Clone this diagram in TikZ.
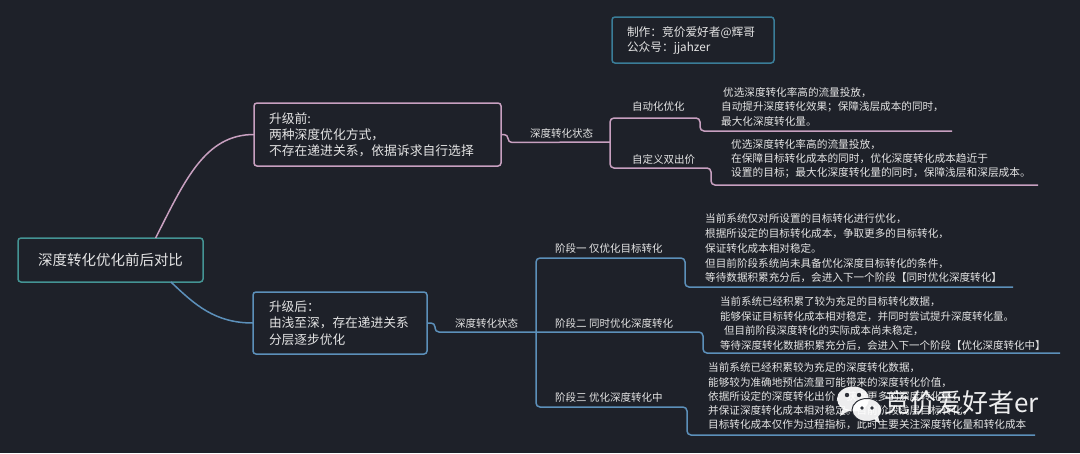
\documentclass[tikz,border=0pt]{standalone}
\usepackage{fontspec}
\setmainfont{Noto Sans CJK SC}
\definecolor{bg}{RGB}{30,33,41}
\definecolor{fg}{RGB}{228,228,228}
\definecolor{pk}{RGB}{200,160,192}
\definecolor{bl}{RGB}{92,144,186}
\definecolor{tl}{RGB}{68,148,148}
\definecolor{cr}{RGB}{58,125,152}
\begin{document}
\begin{tikzpicture}[x=1pt,y=-1pt,
  every node/.style={text=fg},
  box/.style={draw, line width=1.5pt, rounded corners=3pt, fill=bg, align=left, inner ysep=0pt, outer sep=0pt},
  pkline/.style={draw=pk, line width=1.5pt, rounded corners=4pt},
  blline/.style={draw=bl, line width=1.5pt, rounded corners=4pt},
  lbl/.style={inner sep=0pt, anchor=west, font=\fontsize{10.5}{14.5}\selectfont},
  det/.style={inner sep=0pt, anchor=west, align=left},
]
\fill[bg] (0,0) rectangle (1080,453);
\useasboundingbox (0,0) rectangle (1080,453);

% credits
\node[box, draw=cr, anchor=north west, text width=132pt, inner xsep=15pt, minimum height=46pt,
  font=\fontsize{11.7}{15}\selectfont] (credit) at (612,17) {制作：竞价爱好者@辉哥\\公众号：jjahzer};

% main boxes
\node[box, draw=tl, align=center, minimum width=185pt, minimum height=44pt, inner xsep=0pt,
  font=\fontsize{14.5}{17}\selectfont] (root) at (110.5,260) {深度转化优化前后对比};
\node[box, draw=pk, anchor=west, text width=217pt, inner xsep=15pt, minimum height=63pt,
  font=\fontsize{12.8}{16}\selectfont] (pre) at (254,134.5) {升级前:\\两种深度优化方式，\\不存在递进关系，依据诉求自行选择};
\node[box, draw=bl, anchor=west, text width=142pt, inner xsep=16pt, minimum height=62pt,
  font=\fontsize{12.7}{16.5}\selectfont] (post) at (253,323) {升级后：\\由浅至深，存在递进关系\\分层逐步优化};

% upper branch labels
\node[lbl] (state1) at (530,133) {深度转化状态};
\node[lbl] (auto1) at (632,107) {自动化优化};
\node[lbl] (cust1) at (632,160) {自定义双出价};
\node[det, font=\fontsize{10.6}{14.5}\selectfont] (d1) at (721,106.5)
  {\hspace{2pt}优选深度转化率高的流量投放，\\自动提升深度转化效果；保障浅层成本的同时，\\最大化深度转化量。};
\node[det, font=\fontsize{10.7}{14}\selectfont] (d2) at (731,159)
  {优选深度转化率高的流量投放，\\在保障目标转化成本的同时，优化深度转化成本趋近于\\设置的目标；最大化深度转化量的同时，保障浅层和深层成本。};

% lower branch labels
\node[lbl] (state2) at (455,323) {深度转化状态};
\node[lbl] (st1) at (555,248) {阶段一 仅优化目标转化};
\node[lbl] (st2) at (555,323) {阶段二 同时优化深度转化};
\node[lbl] (st3) at (555,397) {阶段三 优化深度转化中};
\node[det, font=\fontsize{10.6}{14.75}\selectfont] (s1) at (705,248.5)
  {当前系统仅对所设置的目标转化进行优化，\\根据所设定的目标转化成本，争取更多的目标转化，\\保证转化成本相对稳定。\\但目前阶段系统尚未具备优化深度目标转化的条件，\\等待数据积累充分后，会进入下一个阶段【同时优化深度转化】};
\node[det, font=\fontsize{10.5}{14.7}\selectfont] (s2) at (720,323.5)
  {当前系统已经积累了较为充足的目标转化数据，\\能够保证目标转化成本相对稳定，并同时尝试提升深度转化量。\\\hspace{4pt}但目前阶段深度转化的实际成本尚未稳定，\\等待深度转化数据积累充分后，会进入下一个阶段【优化深度转化中】};
\node[det, font=\fontsize{10.6}{14.25}\selectfont] (s3) at (708,396.5)
  {当前系统已经积累较为充足的深度转化数据，\\能够较为准确地预估流量可能带来的深度转化价值，\\依据所设定的深度转化出价，获得更多的深度转化量，\\并保证深度转化成本相对稳定。目前阶段浅层目标转化，\\目标转化成本仅作为过程指标，此时主要关注深度转化量和转化成本};

% junctions and free ends
\coordinate (sU) at (610,142);
\coordinate (e1) at (952,131);
\coordinate (e2) at (1038,185);
\coordinate (sL) at (536,332);
\coordinate (f1) at (1013,287);
\coordinate (f2) at (1060,353);
\coordinate (f3) at (1035,435);

% root curves
\draw[pkline] (root.26) .. controls (185,180) and (205,134.5) .. (pre.west);
\draw[blline] (root.-20) .. controls (195,305) and (215,323) .. (post.west);

% upper connectors
\draw[pkline] (pre.east) -- ++(7,0) -- ++(0,8) -- (sU);
\draw[pkline] (sU) -- (610,118) -- (700,118) -- (700,131) -- (e1);
\draw[pkline] (sU) -- (610,168) -- (711,168) -- (711,185) -- (e2);

% lower connectors
\draw[blline] (post.east) -- ++(8,0) -- ++(0,9) -- (sL);
\draw[blline] (sL) -- (536,258) -- (685,258) -- (685,287) -- (f1);
\draw[blline] (sL) -- (703,332) -- (703,353) -- (f2);
\draw[blline] (sL) -- (536,407) -- (687,407) -- (687,435) -- (f3);

% watermark
\begin{scope}[opacity=0.92]
  \fill[white] (853,399) ellipse [x radius=16, y radius=12.5];
  \fill[white] (843,408) -- (840,416) -- (850,410) -- cycle;
  \fill[bg] (847,395) circle [radius=2.2];
  \fill[bg] (859,395) circle [radius=2.2];
  \filldraw[fill=white, draw=bg, line width=1pt] (867,410) ellipse [x radius=15, y radius=11.5];
  \fill[white] (874,419) -- (880,424) -- (878,416) -- cycle;
  \fill[bg] (862,408) circle [radius=1.9];
  \fill[bg] (872,408) circle [radius=1.9];
  \node[inner sep=0pt, anchor=west, text=white, font=\fontsize{26}{28}\selectfont] (wm) at (884,403) {竞价爱好者er};
\end{scope}
\end{tikzpicture}
\end{document}
